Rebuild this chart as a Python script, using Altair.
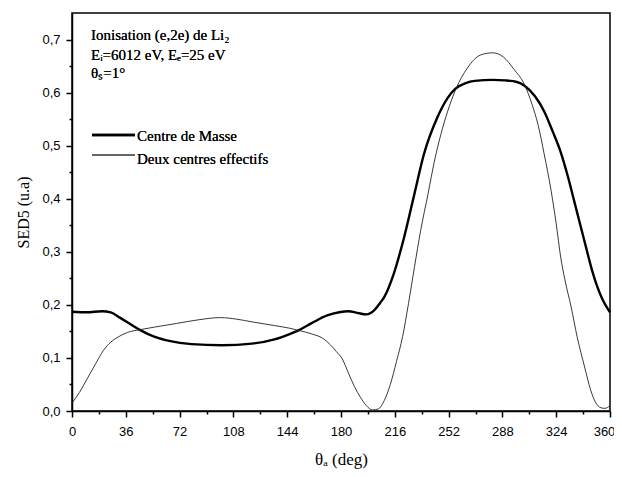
import altair as alt
import pandas as pd

# Centre de Masse (thick)
cm_theta = [0, 10, 20, 26, 32, 40, 46, 55, 65, 80, 100.3, 120.4, 135.5, 145.6, 151.6, 160.7, 170.8, 178.8,
            184.9, 190.9, 197, 202, 206, 209, 215, 222.2, 229.2, 235.3, 244.3, 251.4, 256.4, 263.5, 269.5,
            281.6, 289.7, 297.7, 302.8, 309.8, 315.9, 321.9, 327, 332, 336, 340, 344, 348, 351, 355, 360]
cm_sed = [0.187, 0.186, 0.188, 0.186, 0.176, 0.162, 0.152, 0.140, 0.132, 0.126, 0.124, 0.127, 0.135, 0.145,
          0.152, 0.166, 0.180, 0.186, 0.188, 0.185, 0.182, 0.189, 0.203, 0.215, 0.256, 0.327, 0.410, 0.482,
          0.552, 0.590, 0.607, 0.618, 0.622, 0.624, 0.623, 0.620, 0.613, 0.593, 0.565, 0.525, 0.488, 0.440,
          0.396, 0.352, 0.308, 0.265, 0.238, 0.210, 0.186]

# Deux centres effectifs (thin)
dc_theta = [0, 5, 10, 16, 21, 26, 30, 37, 45, 55, 70, 85, 99.3, 110.3, 120.4, 135.5, 145.6, 151.6, 160.7,
            167.8, 172.8, 176.9, 180.9, 184.9, 189, 193, 197, 201, 205, 209, 213, 217.1, 221.2, 225.2, 229.2,
            233.3, 238.3, 242.3, 246.8, 251.4, 256.9, 264.5, 273.5, 281.6, 288.7, 295.7, 302.8, 307.8, 311.8,
            315.9, 320.6, 323.9, 327, 330, 334, 338, 343, 347, 350, 354, 356.5, 360]
dc_sed = [0.015, 0.035, 0.060, 0.090, 0.114, 0.130, 0.138, 0.148, 0.153, 0.158, 0.165, 0.172, 0.176, 0.173,
          0.168, 0.161, 0.156, 0.152, 0.145, 0.137, 0.125, 0.112, 0.098, 0.072, 0.046, 0.026, 0.010, 0.002,
          0.004, 0.020, 0.050, 0.093, 0.140, 0.203, 0.272, 0.340, 0.410, 0.468, 0.521, 0.565, 0.607, 0.646,
          0.671, 0.675, 0.667, 0.644, 0.615, 0.578, 0.540, 0.485, 0.415, 0.355, 0.290, 0.245, 0.196, 0.140,
          0.083, 0.040, 0.018, 0.006, 0.005, 0.010]

x_ticks = [0, 18, 36, 54, 72, 90, 108, 126, 144, 162, 180, 198, 216, 234, 252, 270, 288, 306, 324, 342, 360]
y_ticks = [0.0, 0.05, 0.1, 0.15, 0.2, 0.25, 0.3, 0.35, 0.4, 0.45, 0.5, 0.55, 0.6, 0.65, 0.7]

legend_labels = ["Centre de Masse", "Deux centres effectifs"]
info_lines = ["Ionisation (e,2e) de Li\u2082", "E\u1d62=6012 eV, E\u2091=25 eV", "\u03b8\u209b=1\u00b0"]

cm_df = pd.DataFrame({"theta": cm_theta, "sed": cm_sed})
dc_df = pd.DataFrame({"theta": dc_theta, "sed": dc_sed})

serif = "Liberation Serif"
sans = "Liberation Sans"

x_enc = alt.X("theta:Q",
              scale=alt.Scale(domain=[0, 360], nice=False),
              axis=alt.Axis(values=x_ticks, title="\u03b8\u2090 (deg)", grid=False,
                            labelExpr="datum.value % 36 == 0 ? datum.value : ''",
                            labelFlush=False,
                            labelOffset={"condition": {"test": "datum.value == 360", "value": -6}, "value": 0},
                            tickSize={"condition": {"test": "datum.value % 36 != 0", "value": 3}, "value": 6},
                            labelFont=sans, labelFontSize=13, labelPadding=8,
                            titleFont=serif, titleFontSize=17, titleFontWeight="normal", titlePadding=13))
y_enc = alt.Y("sed:Q",
              scale=alt.Scale(domain=[0, 0.75], nice=False),
              axis=alt.Axis(values=y_ticks, title="SED5 (u.a)", grid=False,
                            labelExpr="round(datum.value*20) % 2 == 1 ? '' : replace(format(datum.value, '.1f'), '.', ',')",
                            labelFlush=False,
                            tickSize={"condition": {"test": "round(datum.value*20) % 2 == 1", "value": 3}, "value": 6},
                            labelFont=sans, labelFontSize=13, labelPadding=6,
                            titleFont=serif, titleFontSize=16, titleFontWeight="normal", titlePadding=10))

cm_line = alt.Chart(cm_df).mark_line(color="black", strokeWidth=2.4, interpolate="monotone").encode(x=x_enc, y=y_enc)
dc_line = alt.Chart(dc_df).mark_line(color="#222222", strokeWidth=0.9, interpolate="monotone").encode(x=x_enc, y=y_enc)

leg_df = pd.DataFrame({"label": legend_labels})
leg1 = alt.Chart(leg_df).mark_rule(color="black", strokeWidth=2.4).encode(
    x=alt.value(20), x2=alt.value(63), y=alt.value(122))
leg2 = alt.Chart(leg_df).mark_rule(color="#222222", strokeWidth=0.9).encode(
    x=alt.value(20), x2=alt.value(63), y=alt.value(142))
leg_t1 = alt.Chart(leg_df).mark_text(text=legend_labels[0], font=serif, fontSize=15, align="left",
                                     baseline="alphabetic", color="black").encode(x=alt.value(65), y=alt.value(128))
leg_t2 = alt.Chart(leg_df).mark_text(text=legend_labels[1], font=serif, fontSize=15, align="left",
                                     baseline="alphabetic", color="black").encode(x=alt.value(65), y=alt.value(151))

info_layers = []
for t, yy in zip(info_lines, [27, 47, 65]):
    info_layers.append(
        alt.Chart(leg_df).mark_text(text=t, font=serif, fontSize=15, align="left", baseline="alphabetic",
                                    color="black").encode(x=alt.value(19), y=alt.value(yy)))

chart = alt.layer(cm_line, dc_line, leg1, leg2, leg_t1, leg_t2, *info_layers).properties(
    width=538, height=398,
    autosize=alt.AutoSizeParams(type="none"),
    padding={"left": 64, "top": 5, "right": 4, "bottom": 63},
    background="white",
).configure_view(stroke="black", strokeWidth=1.5).configure_axis(
    domainColor="black", domainWidth=1.5, tickColor="black", tickWidth=1.5,
    labelColor="black", titleColor="black")

chart.save("out.html", embed_options={"renderer": "svg", "actions": False})
